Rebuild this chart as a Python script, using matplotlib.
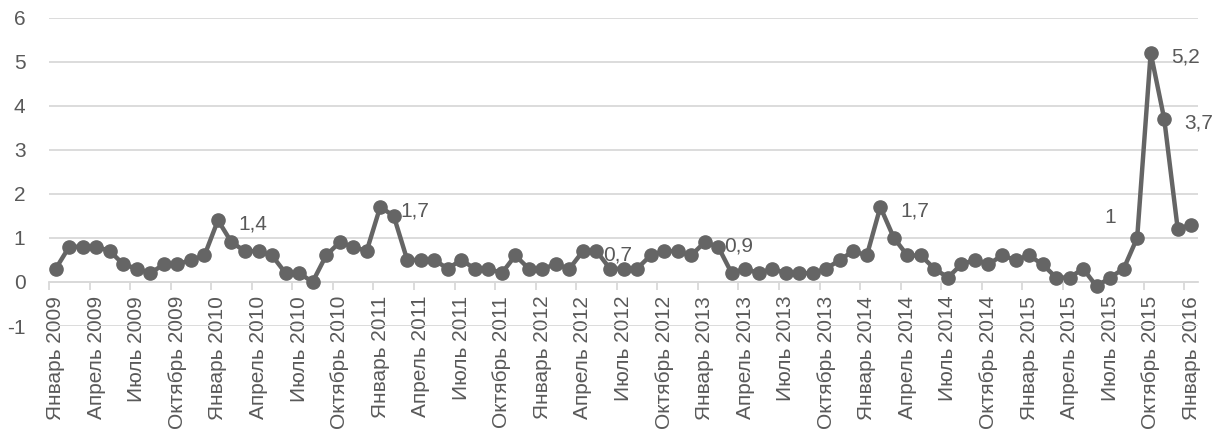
import matplotlib
matplotlib.use("Agg")
import matplotlib.pyplot as plt
import numpy as np

# ---- data ----
month_names = ["Январь", "Апрель", "Июль", "Октябрь"]
years = [2009, 2010, 2011, 2012, 2013, 2014, 2015, 2016]

v2009 = [0.3, 0.8, 0.8, 0.8, 0.7, 0.4, 0.3, 0.2, 0.4, 0.4, 0.5, 0.6]
v2010 = [1.4, 0.9, 0.7, 0.7, 0.6, 0.2, 0.2, 0.0, 0.6, 0.9, 0.8, 0.7]
v2011 = [1.7, 1.5, 0.5, 0.5, 0.5, 0.3, 0.5, 0.3, 0.3, 0.2, 0.6, 0.3]
v2012 = [0.3, 0.4, 0.3, 0.7, 0.7, 0.3, 0.3, 0.3, 0.6, 0.7, 0.7, 0.6]
v2013 = [0.9, 0.8, 0.2, 0.3, 0.2, 0.3, 0.2, 0.2, 0.2, 0.3, 0.5, 0.7]
v2014 = [0.6, 1.7, 1.0, 0.6, 0.6, 0.3, 0.1, 0.4, 0.5, 0.4, 0.6, 0.5]
v2015 = [0.6, 0.4, 0.1, 0.1, 0.3, -0.1, 0.1, 0.3, 1.0, 5.2, 3.7, 1.2]
v2016 = [1.3]
values = v2009 + v2010 + v2011 + v2012 + v2013 + v2014 + v2015 + v2016

# indices of points carrying data labels (placed to the right), and the one placed left/up
labeled_right = [12, 24, 39, 48, 61, 81, 82]
labeled_left = [80]

# ---- style ----
plt.rcParams['font.family'] = ['Liberation Sans', 'DejaVu Sans']
text_color = '#595959'
grid_color = '#d9d9d9'
line_color = '#656565'

W, H = 1227, 441
fig = plt.figure(figsize=(W / 100, H / 100), dpi=100)
ax = fig.add_axes([49 / W, 115 / H, (1198 - 49) / W, (423.5 - 115) / H])

x = np.arange(len(values))
ax.plot(x, values, color=line_color, lw=3.2, marker='o', markersize=9.5,
        markerfacecolor=line_color, markeredgecolor=line_color, zorder=3,
        clip_on=False)

ax.set_xlim(-0.5, len(values) - 0.5)
ax.set_ylim(-1, 6)
ax.set_yticks(range(-1, 7))
ax.set_yticklabels([str(t) for t in range(-1, 7)])
ax.yaxis.grid(True, color=grid_color, lw=1.3)
ax.set_axisbelow(True)

for s in ['top', 'right', 'left']:
    ax.spines[s].set_visible(False)
ax.spines['bottom'].set_position(('data', 0))
ax.spines['bottom'].set_color(grid_color)
ax.spines['bottom'].set_linewidth(1.3)

ax.tick_params(axis='y', length=0, pad=17, labelsize=15, labelcolor=text_color)

# x ticks: labels every 3 months at category centers, tick marks at boundaries
tick_pos = list(range(0, len(values), 3))
tick_labels = []
for i in tick_pos:
    yr = years[i // 12]
    mn = month_names[(i % 12) // 3]
    tick_labels.append(f"{mn} {yr}")
ax.set_xticks(tick_pos)
ax.set_xticklabels(tick_labels, rotation=90, fontsize=15, color=text_color)
ax.tick_params(axis='x', which='major', length=0, pad=10)
ax.set_xticks([p - 0.5 for p in tick_pos], minor=True)
ax.tick_params(axis='x', which='minor', length=6, width=1.3, color=grid_color)


def fmt(v):
    return f"{v:g}".replace('.', ',')


for i in labeled_right:
    ax.annotate(fmt(values[i]), (x[i], values[i]), xytext=(20, -4),
                textcoords='offset pixels', ha='left', va='center',
                fontsize=15, color=text_color)
for i in labeled_left:
    ax.annotate(fmt(values[i]), (x[i], values[i]), xytext=(-21, 20),
                textcoords='offset pixels', ha='right', va='center',
                fontsize=15, color=text_color)

fig.savefig('out.png', dpi=100)
